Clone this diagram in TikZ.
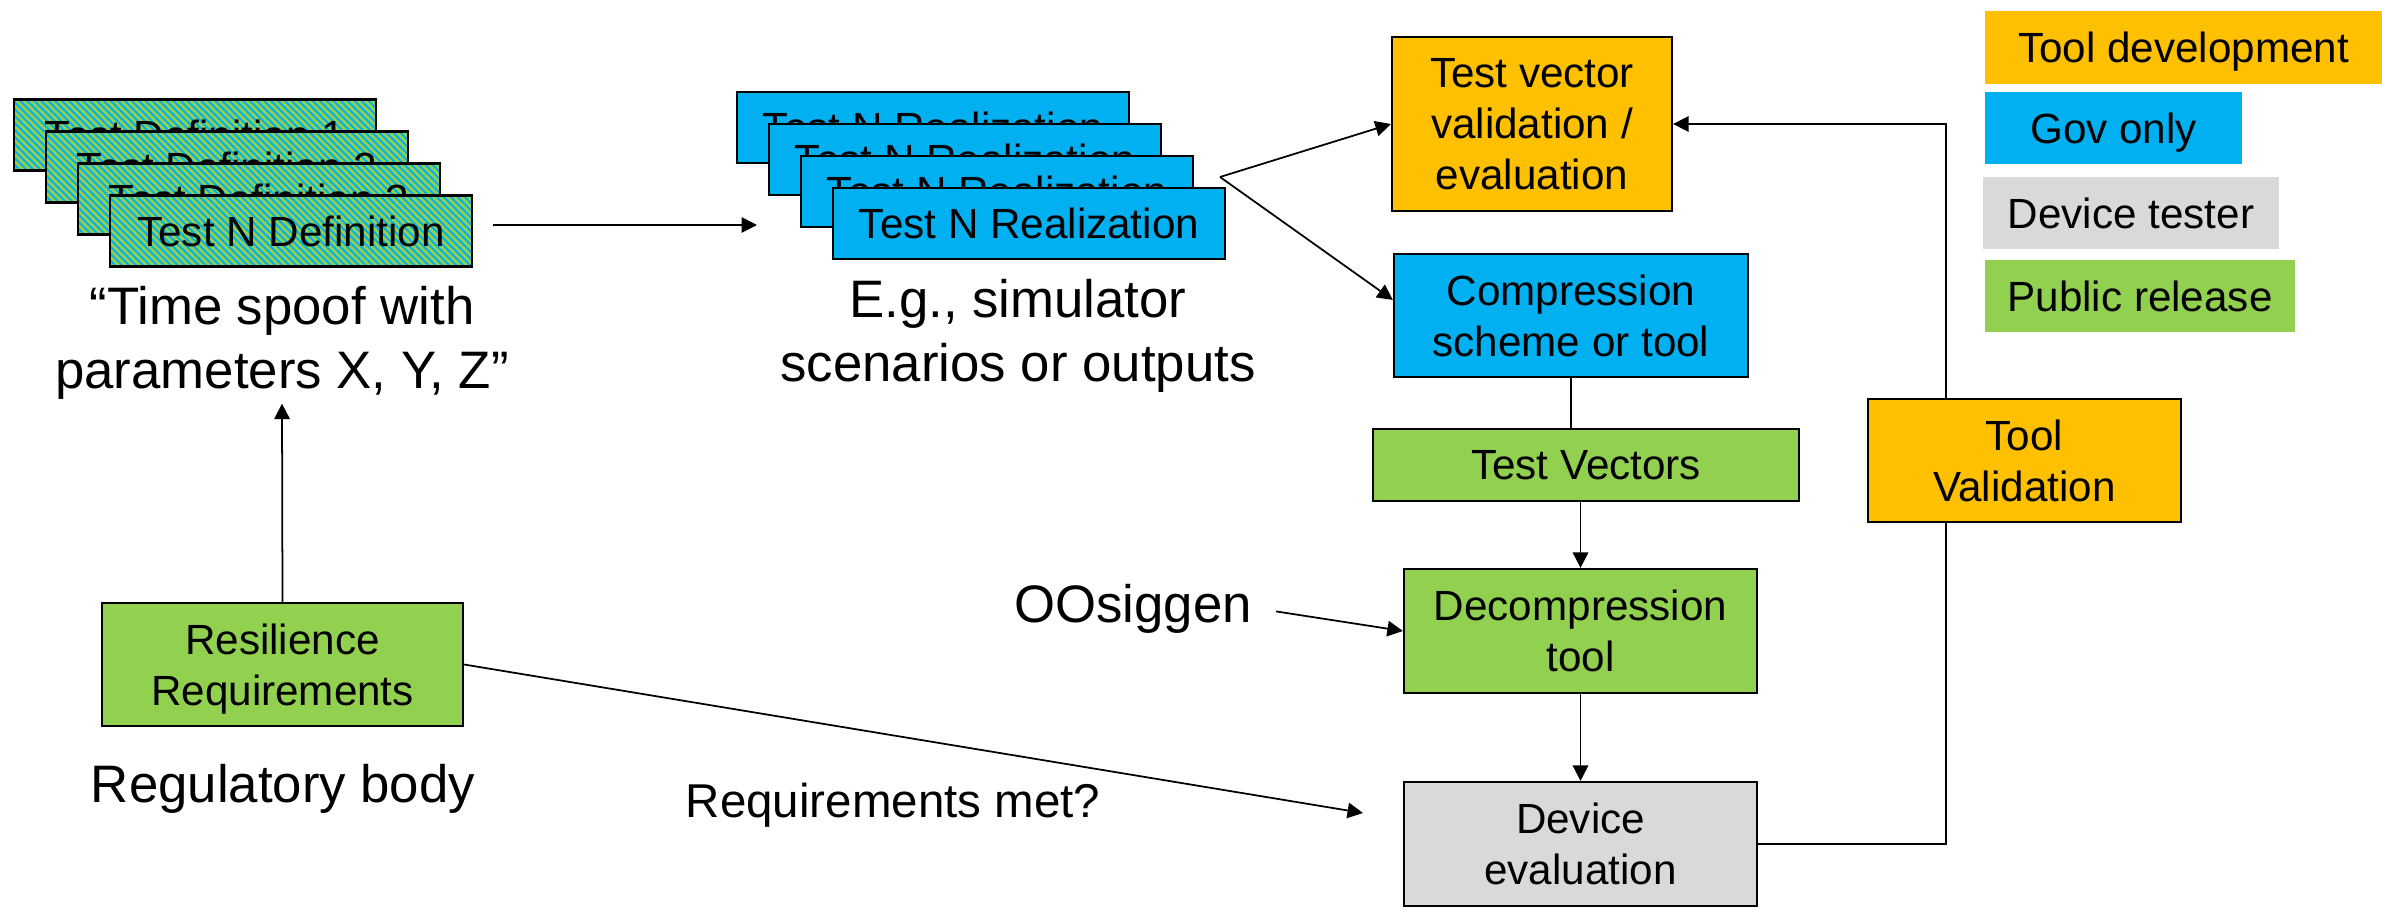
\documentclass[tikz,border=0pt]{standalone}
\usepackage{fontspec}
\setmainfont{Liberation Sans}
\usetikzlibrary{arrows.meta,patterns.meta}
\definecolor{govblue}{HTML}{00B0F0}
\definecolor{pubgreen}{HTML}{92D050}
\definecolor{toolorange}{HTML}{FFC000}
\definecolor{testgray}{HTML}{D9D9D9}
\begin{document}
\begin{tikzpicture}[x=0.01cm,y=-0.01cm,
    >={Triangle[length=4.4pt,width=4.4pt]},
    line width=0.5pt,
    box/.style={draw,line width=0.6pt,align=center,inner sep=0pt,text depth=0pt,
      font=\fontsize{12}{14.5}\selectfont},
    defbox/.style={box,preaction={fill=pubgreen},
      pattern={Lines[angle=-45,distance=1.4pt,line width=0.55pt]},pattern color=govblue,
      minimum width=3.61cm,minimum height=0.71cm},
    realbox/.style={box,fill=govblue,minimum width=3.92cm,minimum height=0.71cm},
    legend/.style={inner sep=0pt,text depth=0pt,minimum height=0.72cm,
      font=\fontsize{12}{14.5}\selectfont},
    note/.style={align=center,inner sep=1pt,font=\fontsize{15}{18}\selectfont}]
      \useasboundingbox (0,0) rectangle (2382,909);
      \foreach \i/\lbl in {0/Test Definition 1,1/Test Definition 2,2/Test Definition 3,3/Test N Definition}
        \node[defbox] (def\i) at (195+32*\i,135+32*\i) {\lbl};
      \foreach \i in {0,...,3}
        \node[realbox] (real\i) at (933+32*\i,127.5+32*\i) {Test N Realization};
      \node[note] (spoof) at (282,343) {``Time spoof with\\parameters X, Y, Z''};
      \node[note] (eg) at (1018,336) {E.g., simulator\\scenarios or outputs};
      \node[box,fill=pubgreen,minimum width=3.61cm,minimum height=1.23cm] (res) at (282.5,664.5) {Resilience\\Requirements};
      \node[note,anchor=base] (regbody) at (283,802) {Regulatory body};
      \node[note,anchor=base,font=\fontsize{13.5}{16}\selectfont] (reqmet) at (893,817) {Requirements met?};
      \node[note,anchor=base west] (oosig) at (1010,622) {OOsiggen};
      \node[box,fill=toolorange,minimum width=2.80cm,minimum height=1.74cm] (tvv) at (1532,124) {Test vector\\validation /\\evaluation};
      \node[box,fill=govblue,minimum width=3.54cm,minimum height=1.23cm] (cmp) at (1571,315.5) {Compression\\scheme or tool};
      \node[box,fill=pubgreen,minimum width=4.26cm,minimum height=0.72cm] (tv) at (1586,465) {Test Vectors};
      \node[box,fill=pubgreen,minimum width=3.53cm,minimum height=1.24cm] (dec) at (1580.5,631) {Decompression\\tool};
      \node[box,fill=testgray,minimum width=3.53cm,minimum height=1.24cm] (dev) at (1580.5,844) {Device\\evaluation};
      \node[legend,fill=toolorange,minimum width=3.97cm] (legtool) at (2183.5,47.5) {Tool development};
      \node[legend,fill=govblue,minimum width=2.57cm] (leggov) at (2113.5,128) {Gov only};
      \node[legend,fill=testgray,minimum width=2.96cm] (legdev) at (2131,213) {Device tester};
      \node[legend,fill=pubgreen,minimum width=3.10cm] (legpub) at (2140,296) {Public release};
      \coordinate (realin) at (757,225);
      \coordinate (fork) at (1220,177);
      \coordinate (metend) at (1363,813);
      \coordinate (vline) at (1946,460);
      \begin{scope}[->]
        \draw[shorten <=0.2cm] (def3.east |- realin) to (realin);
        \draw (fork) to (tvv.west);
        \draw (fork) to (cmp.175);
        \draw (tv.south -| dec.north) to (dec.north);
        \draw (dec.south) to (dev.north);
        \draw (res.north) to (spoof.south);
        \draw (res.east) to (metend);
        \draw[shorten <=0.2cm] (oosig.east) to (dec.west);
        \draw (dev.east) -| (vline) |- (tvv.east);
      \end{scope}
      \draw (cmp.south) to (cmp.south |- tv.north);
      \node[box,fill=toolorange,minimum width=3.13cm,minimum height=1.23cm] (tval) at (2024.5,460.5) {Tool\\Validation};
    \end{tikzpicture}
\end{document}
